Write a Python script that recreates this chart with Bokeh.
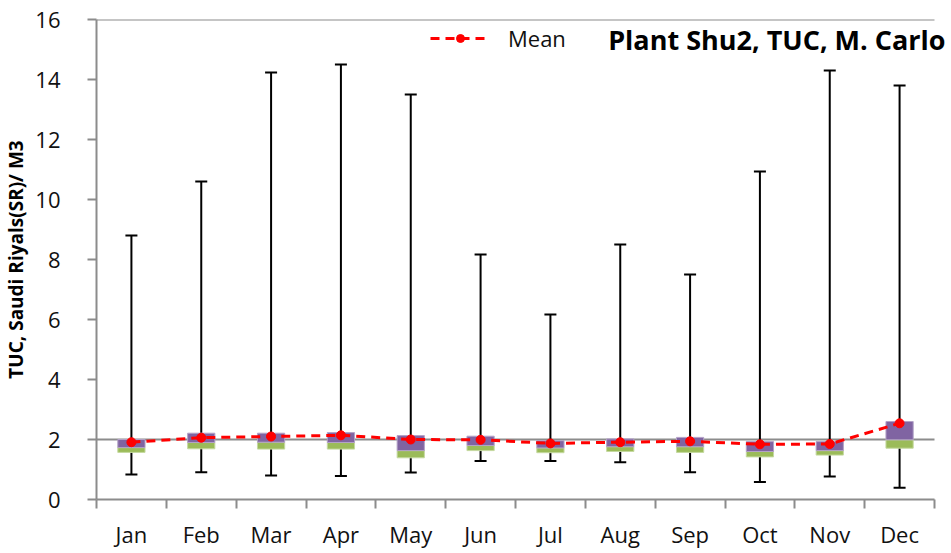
from bokeh.plotting import figure
from bokeh.models import Range1d, FixedTicker, Label, ColumnDataSource
from bokeh.embed import file_html
from bokeh.resources import INLINE

months = ["Jan", "Feb", "Mar", "Apr", "May", "Jun", "Jul", "Aug", "Sep", "Oct", "Nov", "Dec"]
whisker_low = [0.83, 0.91, 0.80, 0.78, 0.90, 1.28, 1.28, 1.24, 0.91, 0.58, 0.77, 0.39]
whisker_high = [8.80, 10.60, 14.23, 14.50, 13.50, 8.17, 6.17, 8.50, 7.50, 10.93, 14.30, 13.80]
q1 = [1.57, 1.69, 1.68, 1.68, 1.39, 1.63, 1.56, 1.60, 1.57, 1.42, 1.48, 1.71]
median = [1.73, 1.90, 1.91, 1.90, 1.63, 1.80, 1.72, 1.76, 1.76, 1.60, 1.63, 1.99]
q3 = [2.00, 2.21, 2.21, 2.23, 2.13, 2.11, 1.96, 2.02, 2.07, 1.93, 1.93, 2.60]
mean = [1.91, 2.06, 2.10, 2.14, 2.00, 1.99, 1.87, 1.91, 1.94, 1.84, 1.85, 2.54]
y_ticks = [0, 2, 4, 6, 8, 10, 12, 14, 16]
grid_y = [2, 16]

FONT = "Open Sans"
GRAY = "#8c8c8c"

n = len(months)
x = list(range(1, n + 1))
src = ColumnDataSource(dict(x=x, lo=whisker_low, hi=whisker_high, q1=q1, med=median, q3=q3, mean=mean))

W, H = 950, 552
LEFT, TOP, BOTTOM = 96, 19, 53
AXIS_RIGHT_PX = 934  # where the category axis ends
cat_px = (AXIS_RIGHT_PX - LEFT) / n
x_end = 0.5 + (W - LEFT) / cat_px

p = figure(width=W, height=H, output_backend="svg", toolbar_location=None,
           x_range=Range1d(0.5, x_end), y_range=Range1d(0, 16),
           min_border_left=LEFT, min_border_right=0, min_border_top=TOP, min_border_bottom=BOTTOM)
p.outline_line_color = None
p.background_fill_color = "white"
p.xgrid.visible = False
p.ygrid.visible = False

# horizontal reference lines (at 2 and 16), limited to the category extent
p.segment(x0=0.5, x1=n + 0.5, y0=grid_y, y1=grid_y, line_color=GRAY, line_width=2)

# whiskers
p.segment(x0="x", y0="lo", x1="x", y1="hi", source=src, line_color="black", line_width=2)
p.scatter(x="x", y="lo", source=src, marker="dash", size=12, line_color="black", line_width=2)
p.scatter(x="x", y="hi", source=src, marker="dash", size=12, line_color="black", line_width=2)

# boxes
bw = 0.39
p.vbar(x="x", bottom="q1", top="med", width=bw, source=src, fill_color="#9BBB59", line_color="#c5d9a0", line_width=1)
p.vbar(x="x", bottom="med", top="q3", width=bw, source=src, fill_color="#8064A2", line_color="#b3a2c7", line_width=1)

# mean
p.line(x="x", y="mean", source=src, line_color="#FF0000", line_width=3, line_dash="9 6", legend_label="Mean")
p.scatter(x="x", y="mean", source=src, marker="circle", size=9, fill_color="#FF0000", line_color="#FF0000", legend_label="Mean")

# axes
xa = p.xaxis[0]
xa.bounds = (0.5, n + 0.5)
xa.ticker = FixedTicker(ticks=x, minor_ticks=[i + 0.5 for i in range(0, n + 1)])
xa.major_label_overrides = {i: m for i, m in zip(x, months)}
xa.major_tick_out = 0
xa.major_tick_in = 0
xa.minor_tick_out = 9
xa.minor_tick_in = 0
xa.minor_tick_line_color = GRAY
xa.minor_tick_line_width = 2
xa.axis_line_color = GRAY
xa.axis_line_width = 2
xa.major_label_text_font = FONT
xa.major_label_text_font_size = "22px"
xa.major_label_text_color = "#111111"
xa.major_label_standoff = 10

ya = p.yaxis[0]
ya.ticker = FixedTicker(ticks=y_ticks)
ya.minor_tick_line_color = None
ya.major_tick_out = 9
ya.major_tick_in = 0
ya.major_tick_line_color = GRAY
ya.major_tick_line_width = 2
ya.axis_line_color = GRAY
ya.axis_line_width = 2
ya.major_label_text_font = FONT
ya.major_label_text_font_size = "22px"
ya.major_label_text_color = "#111111"
ya.major_label_standoff = 27
ya.axis_label = "TUC, Saudi Riyals(SR)/ M3"
ya.axis_label_text_font = FONT
ya.axis_label_text_font_style = "bold"
ya.axis_label_text_font_size = "19px"
ya.axis_label_text_color = "black"
ya.axis_label_standoff = 3

# legend
lg = p.legend[0]
lg.location = (334, 446)
lg.background_fill_alpha = 0
lg.border_line_color = None
lg.padding = 0
lg.margin = 0
lg.glyph_width = 60
lg.glyph_height = 20
lg.label_text_font = FONT
lg.label_text_font_size = "22px"
lg.label_text_color = "#111111"
lg.label_standoff = 18

# title inside plot area
p.add_layout(Label(x=n + 0.5, y=15.35, x_offset=11, text="Plant Shu2, TUC, M. Carlo",
                   text_font=FONT, text_font_style="bold", text_font_size="27px",
                   text_align="right", text_baseline="middle", text_color="black"))

open("out.html", "w").write(file_html(p, INLINE))
